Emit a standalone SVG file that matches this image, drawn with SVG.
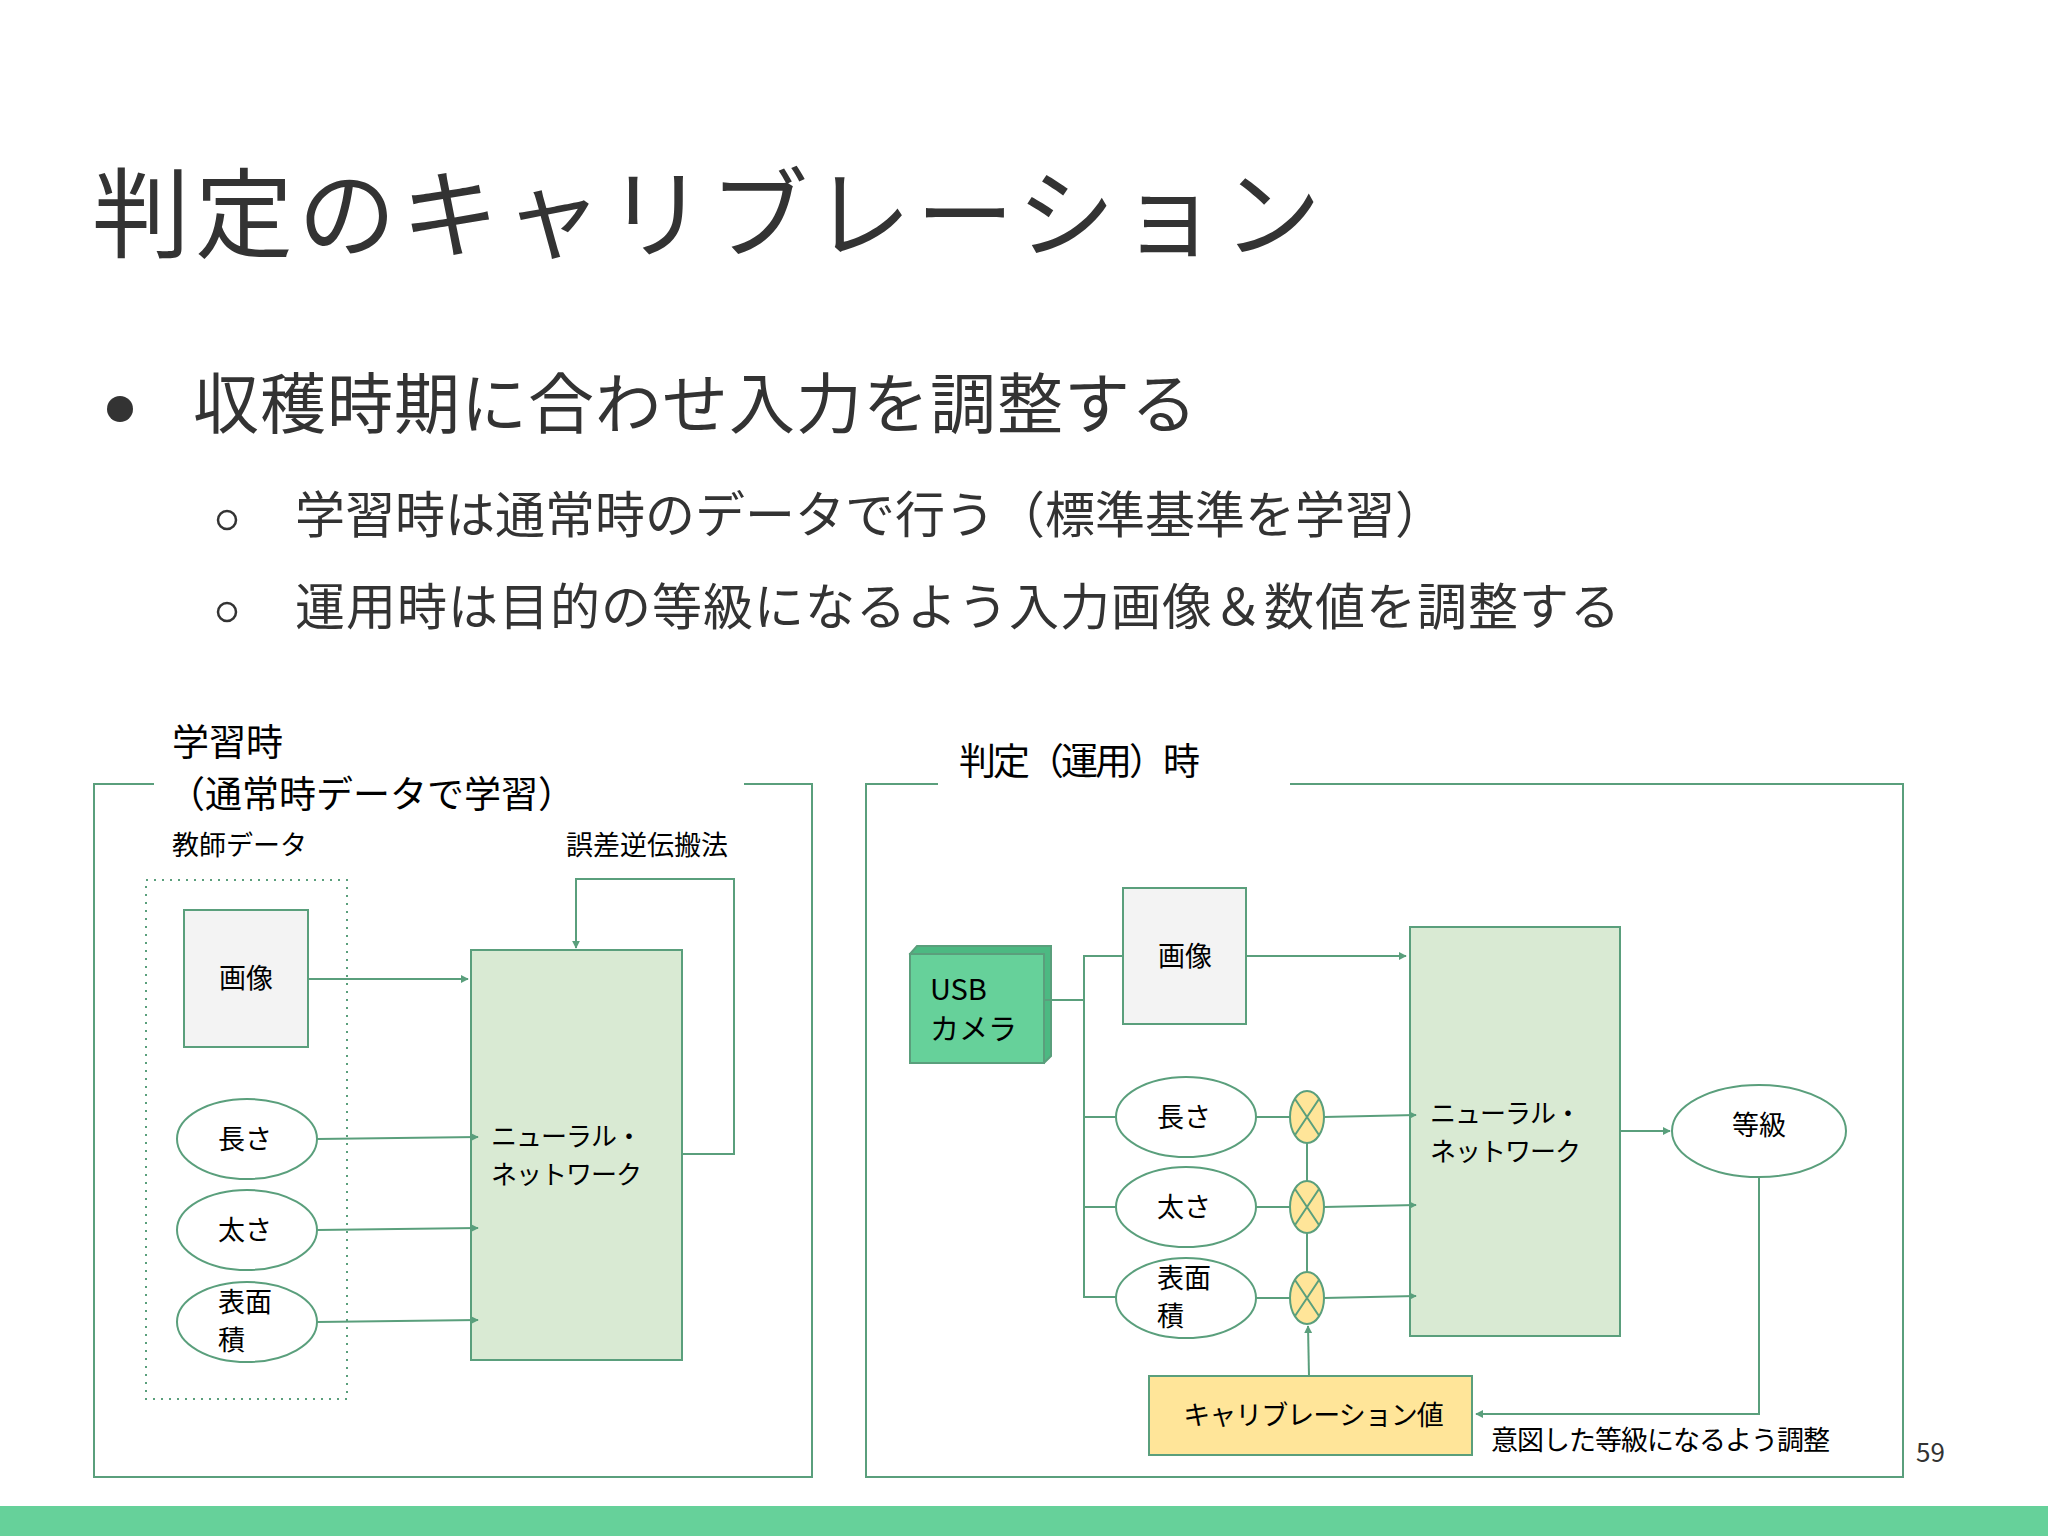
<svg xmlns="http://www.w3.org/2000/svg" width="2048" height="1536" viewBox="0 0 2048 1536">
<defs>
<marker id="ar" viewBox="0 0 10 10" refX="9" refY="5" markerWidth="8" markerHeight="8" markerUnits="userSpaceOnUse" orient="auto"><path d="M0,0L10,5L0,10z" fill="#5a9f7c"/></marker>
<style>
text{font-family:"Noto Sans CJK JP","Noto Sans",sans-serif;fill:#000}
.ln{fill:none;stroke:#5a9f7c;stroke-width:2}
.a{marker-end:url(#ar)}
.s{font-size:27px}
.nn{font-size:26px;letter-spacing:-1px}
.m{font-size:37px}
</style>
</defs>
<rect width="2048" height="1536" fill="#fff"/>
<text x="92" y="250" font-size="98" letter-spacing="5" style="fill:#333">判定のキャリブレーション</text>
<circle cx="120" cy="409" r="13" fill="#333"/>
<text x="193" y="428" font-size="66" letter-spacing="1" style="fill:#333">収穫時期に合わせ入力を調整する</text>
<circle cx="227" cy="520" r="9" fill="none" stroke="#333" stroke-width="2.5"/>
<text x="295" y="533" font-size="50" style="fill:#333">学習時は通常時のデータで行う（標準基準を学習）</text>
<circle cx="227" cy="612" r="9" fill="none" stroke="#333" stroke-width="2.5"/>
<text x="295" y="625" font-size="50" letter-spacing="1" style="fill:#333">運用時は目的の等級になるよう入力画像＆数値を調整する</text>
<rect x="0" y="1506" width="2048" height="30" fill="#66d19a"/>
<text x="1916" y="1462" font-size="26" style="fill:#333">59</text>

<g id="frameL">
<path class="ln" d="M154,784H94V1477H812V784H744"/>
<text x="172" y="756" class="m">学習時</text>
<text x="168" y="808" class="m">（通常時データで学習）</text>
<text x="172" y="855" class="s">教師データ</text>
<text x="566" y="855" class="s">誤差逆伝搬法</text>
<rect x="146" y="880" width="201" height="519" fill="none" stroke="#5a9f7c" stroke-width="2" stroke-dasharray="2,6"/>
</g>
<g id="imgL"><rect x="184" y="910" width="124" height="137" fill="#f3f3f3" stroke="#5a9f7c" stroke-width="2"/><text x="246" y="988" class="s" text-anchor="middle">画像</text></g>
<g id="lenL"><ellipse cx="247" cy="1139" rx="70" ry="40" fill="#fff" stroke="#5a9f7c" stroke-width="2"/><text x="218" y="1149" class="s">長さ</text></g>
<g id="thkL"><ellipse cx="247" cy="1230" rx="70" ry="40" fill="#fff" stroke="#5a9f7c" stroke-width="2"/><text x="218" y="1240" class="s">太さ</text></g>
<g id="areaL"><ellipse cx="247" cy="1322" rx="70" ry="40" fill="#fff" stroke="#5a9f7c" stroke-width="2"/><text x="218" y="1312" class="s">表面</text><text x="218" y="1350" class="s">積</text></g>
<g id="nnL"><rect x="471" y="950" width="211" height="410" fill="#d9ead3" stroke="#5a9f7c" stroke-width="2"/><text x="491" y="1146" class="nn">ニューラル・</text><text x="491" y="1184" class="nn">ネットワーク</text></g>

<g id="frameR">
<path class="ln" d="M938,784H866V1477H1903V784H1290"/>
<text x="959" y="775" class="m" letter-spacing="-3">判定（運用）時</text>
<text x="1491" y="1450" class="s" letter-spacing="-1">意図した等級になるよう調整</text>
</g>
<g id="cam"><path d="M910,954L917,946H1051V1056L1044,1063Z" fill="#4cb982" stroke="#5a9f7c" stroke-width="2"/><rect x="910" y="954" width="134" height="109" fill="#66d19a" stroke="#5a9f7c" stroke-width="2"/><text x="930" y="1000" font-size="29">USB</text><text x="930" y="1040" font-size="29">カメラ</text></g>
<g id="imgR"><rect x="1123" y="888" width="123" height="136" fill="#f3f3f3" stroke="#5a9f7c" stroke-width="2"/><text x="1185" y="966" class="s" text-anchor="middle">画像</text></g>
<g id="lenR"><ellipse cx="1186" cy="1117" rx="70" ry="40" fill="#fff" stroke="#5a9f7c" stroke-width="2"/><text x="1157" y="1127" class="s">長さ</text></g>
<g id="thkR"><ellipse cx="1186" cy="1207" rx="70" ry="40" fill="#fff" stroke="#5a9f7c" stroke-width="2"/><text x="1157" y="1217" class="s">太さ</text></g>
<g id="areaR"><ellipse cx="1186" cy="1298" rx="70" ry="40" fill="#fff" stroke="#5a9f7c" stroke-width="2"/><text x="1157" y="1288" class="s">表面</text><text x="1157" y="1326" class="s">積</text></g>
<g id="nnR"><rect x="1410" y="927" width="210" height="409" fill="#d9ead3" stroke="#5a9f7c" stroke-width="2"/><text x="1430" y="1123" class="nn">ニューラル・</text><text x="1430" y="1161" class="nn">ネットワーク</text></g>
<g id="grade"><ellipse cx="1759" cy="1131" rx="87" ry="46" fill="#fff" stroke="#5a9f7c" stroke-width="2"/><text x="1759" y="1135" class="s" text-anchor="middle">等級</text></g>
<g id="calib"><rect x="1149" y="1376" width="323" height="79" fill="#ffe599" stroke="#5a9f7c" stroke-width="2"/><text x="1313" y="1425" class="s" text-anchor="middle" letter-spacing="-1">キャリブレーション値</text></g>
<g id="mults">
<g><ellipse cx="1307" cy="1117" rx="17" ry="26" fill="#ffe599" stroke="#5a9f7c" stroke-width="2"/><path class="ln" d="M1295,1099L1319,1135M1319,1099L1295,1135"/></g>
<g><ellipse cx="1307" cy="1207" rx="17" ry="26" fill="#ffe599" stroke="#5a9f7c" stroke-width="2"/><path class="ln" d="M1295,1189L1319,1225M1319,1189L1295,1225"/></g>
<g><ellipse cx="1307" cy="1298" rx="17" ry="26" fill="#ffe599" stroke="#5a9f7c" stroke-width="2"/><path class="ln" d="M1295,1280L1319,1316M1319,1280L1295,1316"/></g>
</g>

<g id="connectors">
<path class="ln a" d="M308,979H468"/>
<path class="ln a" d="M317,1139L478,1137"/>
<path class="ln a" d="M317,1230L478,1228"/>
<path class="ln a" d="M317,1322L478,1320"/>
<path class="ln a" d="M682,1154H734V879H576V948"/>
<path class="ln" d="M1044,1000H1084V1297H1116M1084,1117H1116M1084,1207H1116M1084,1000V956H1123"/>
<path class="ln a" d="M1246,956H1406"/>
<path class="ln" d="M1256,1117H1290M1256,1207H1290M1256,1298H1290M1307,1143V1181M1307,1233V1272"/>
<path class="ln a" d="M1324,1117L1416,1115"/>
<path class="ln a" d="M1324,1207L1416,1205"/>
<path class="ln a" d="M1324,1298L1416,1296"/>
<path class="ln a" d="M1309,1376L1308,1326"/>
<path class="ln a" d="M1620,1131H1670"/>
<path class="ln a" d="M1759,1177V1414H1476"/>
</g>
</svg>
